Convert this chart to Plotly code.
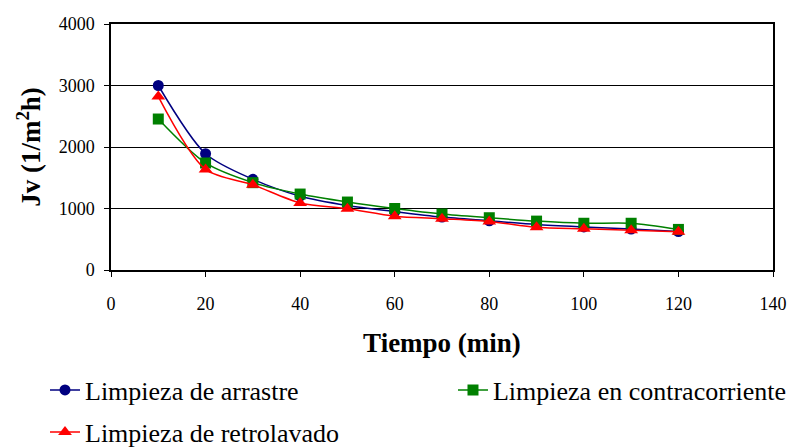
import plotly.graph_objects as go

tiempo = [10, 20, 30, 40, 50, 60, 70, 80, 90, 100, 110, 120]
arrastre = [3000, 1890, 1475, 1200, 1050, 950, 860, 800, 740, 700, 665, 625]
contracorriente = [2455, 1740, 1420, 1235, 1105, 1000, 910, 850, 795, 760, 760, 660]
retrolavado = [2820, 1635, 1385, 1090, 995, 875, 835, 790, 695, 670, 645, 620]

names = ["Limpieza de arrastre", "Limpieza en contracorriente", "Limpieza de retrolavado"]
x_ticks = [0, 20, 40, 60, 80, 100, 120, 140]
y_ticks = [0, 1000, 2000, 3000, 4000]

FONT = "Liberation Serif, Times New Roman, Tinos, DejaVu Serif, serif"

fig = go.Figure()
fig.add_trace(go.Scatter(x=tiempo, y=arrastre, name=names[0], mode="lines+markers",
                         line=dict(color="#000080", width=1.5, shape="spline", smoothing=0.8),
                         marker=dict(symbol="circle", size=11, color="#000080"),
                         legend="legend", showlegend=True))
fig.add_trace(go.Scatter(x=tiempo, y=contracorriente, name=names[1], mode="lines+markers",
                         line=dict(color="#008000", width=1.5, shape="spline", smoothing=0.8),
                         marker=dict(symbol="square", size=11, color="#008000"),
                         legend="legend2", showlegend=True))
fig.add_trace(go.Scatter(x=tiempo, y=retrolavado, name=names[2], mode="lines+markers",
                         line=dict(color="#FF0000", width=1.5, shape="spline", smoothing=0.8),
                         marker=dict(symbol="triangle-up", size=12, color="#FF0000"),
                         legend="legend3", showlegend=True))

leg_font = dict(family=FONT, size=26, color="black")
leg_common = dict(orientation="h", xanchor="left", yanchor="middle",
                  font=leg_font, bgcolor="rgba(0,0,0,0)", itemwidth=30, visible=True)

fig.update_layout(
    width=809, height=448,
    showlegend=True,
    margin=dict(l=111, r=36, t=24, b=178, autoexpand=False),
    paper_bgcolor="white", plot_bgcolor="white",
    font=dict(family=FONT, color="black", size=18),
    xaxis=dict(range=[0, 140], tickvals=x_ticks, showgrid=False, zeroline=False,
               showline=True, linecolor="black", linewidth=1.5, mirror=True,
               ticks="outside", ticklen=5, tickcolor="black", ticklabelstandoff=12,
               tickfont=dict(family=FONT, size=18, color="black"),
               title=dict(text="<b>Tiempo (min)</b>", font=dict(family=FONT, size=27, color="black"),
                          standoff=20)),
    yaxis=dict(range=[0, 4000], tickvals=y_ticks, showgrid=True, gridcolor="black", gridwidth=1,
               zeroline=False, showline=True, linecolor="black", linewidth=1.5, mirror=True,
               ticks="outside", ticklen=5, tickcolor="black", ticklabelstandoff=6,
               tickfont=dict(family=FONT, size=18, color="black"),
               title=dict(text="<b>Jv (1/m<sup>2</sup>h)</b>", font=dict(family=FONT, size=27, color="black"),
                          standoff=10)),
    legend=dict(x=-0.0997, y=-0.4878, **leg_common),
    legend2=dict(x=0.5166, y=-0.4878, **leg_common),
    legend3=dict(x=-0.0997, y=-0.6585, **leg_common),
)

fig.write_html("out.html")
